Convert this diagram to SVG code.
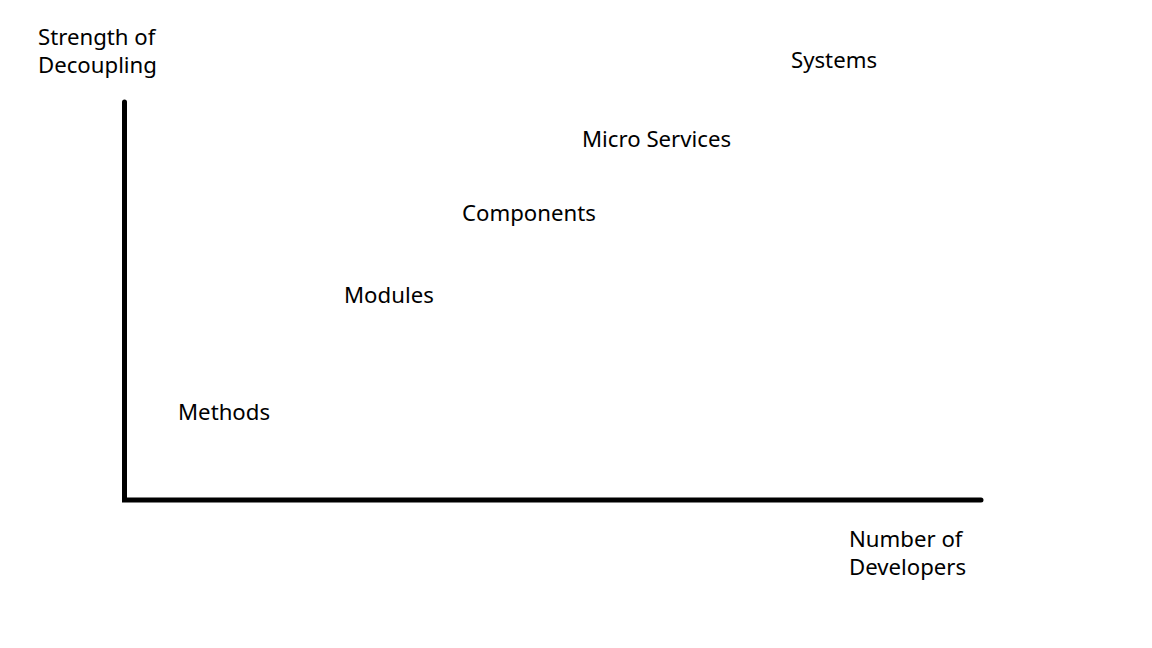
<svg xmlns="http://www.w3.org/2000/svg" width="1152" height="648" viewBox="0 0 1152 648">
<style>
text{font-family:"Noto Sans","Open Sans",sans-serif;font-size:22.2px;fill:#000}
.axis{stroke:#000;stroke-width:5;fill:none;stroke-linecap:round;stroke-linejoin:miter}
</style>
<rect width="1152" height="648" fill="#fff"/>
<g id="connectors">
<path class="axis" d="M124.5,102 V500 H981"/>
</g>
<g id="y-label"><text x="38" y="45">Strength of</text><text x="38" y="73">Decoupling</text></g>
<g id="x-label"><text x="849" y="547">Number of</text><text x="849" y="575">Developers</text></g>
<g id="systems"><text x="791" y="68">Systems</text></g>
<g id="micro-services"><text x="582" y="147">Micro Services</text></g>
<g id="components"><text x="462" y="221">Components</text></g>
<g id="modules"><text x="344" y="303">Modules</text></g>
<g id="methods"><text x="178" y="420">Methods</text></g>
</svg>
